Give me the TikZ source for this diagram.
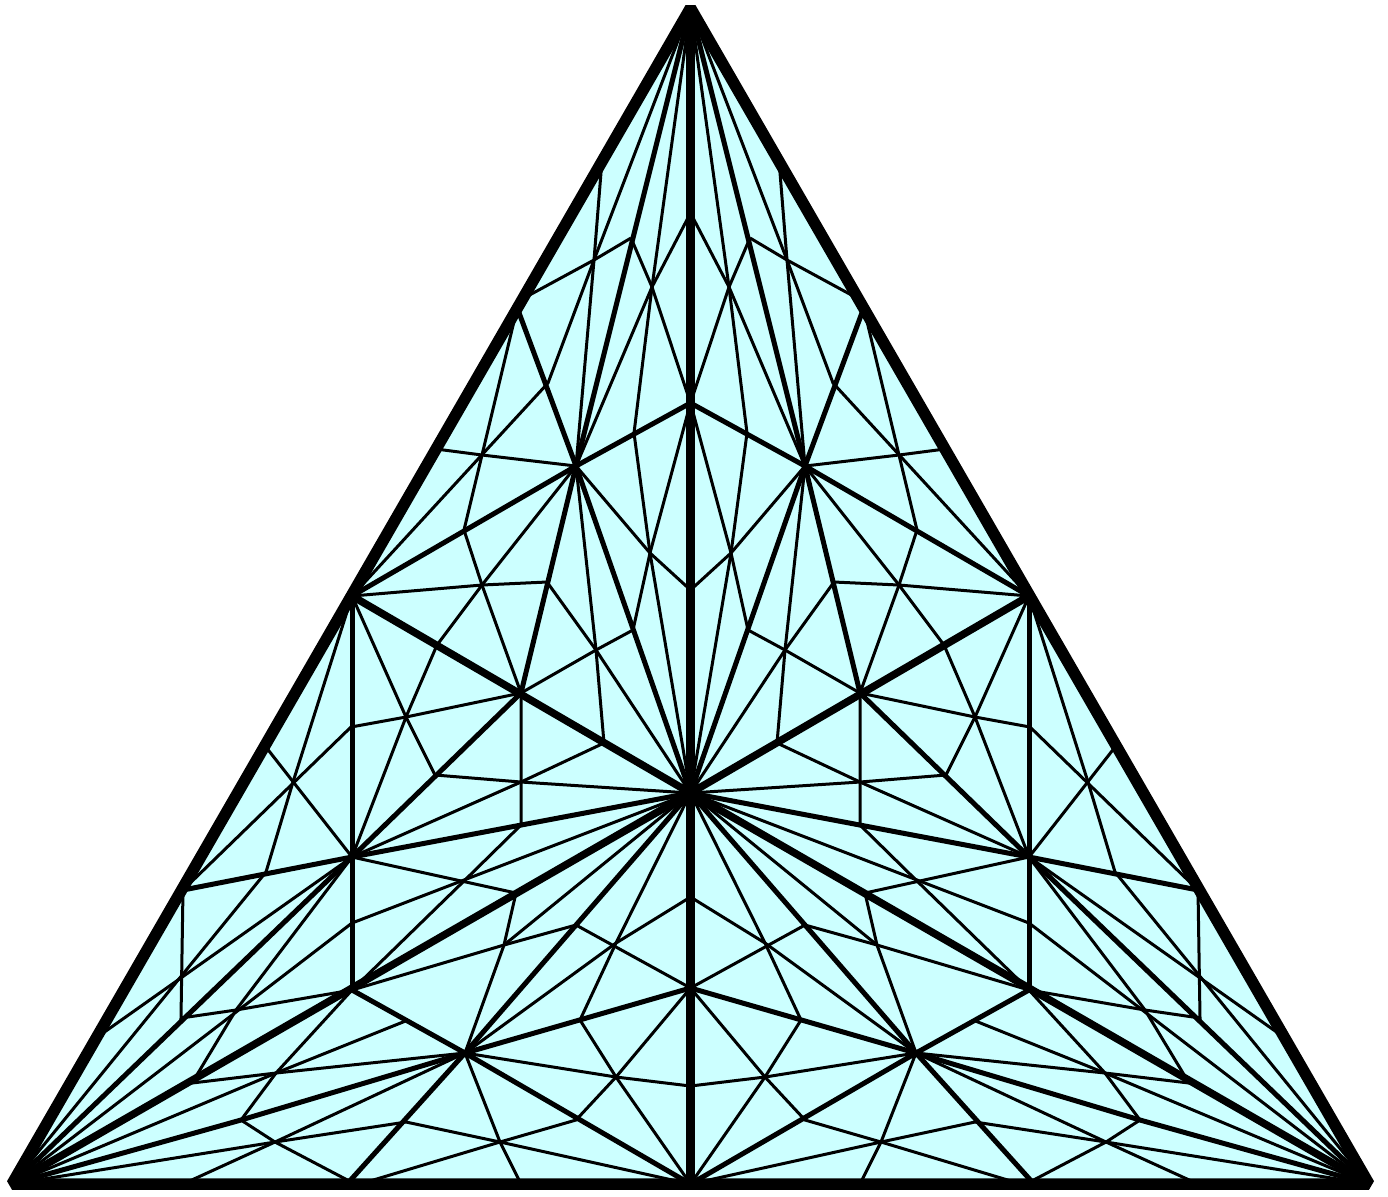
\documentclass[tikz,border=0pt]{standalone}
\usepackage{xcolor}
\definecolor{paleCyan}{RGB}{204,255,255}
\tikzset{
  rim/.style      = {draw=black, line width=11.5\unitlength, line join=bevel},
  meshfine/.style = {black, line width=3\unitlength},
  meshmid/.style  = {black, line width=5\unitlength},
  meshbold/.style = {black, line width=7.5\unitlength},
  axisline/.style = {black, line width=9.5\unitlength}
}
\setlength{\unitlength}{0.01cm}
\begin{document}
\begin{tikzpicture}[x=0.01cm, y=-0.01cm]
  \useasboundingbox (0,0) rectangle (1388,1196);

  \coordinate (top) at (690.5,8);
  \coordinate (mid) at (690.5,793);
  \coordinate (foot) at (690.5,1184);
  \coordinate (cornerL) at (12,1184);
  \coordinate (cornerR) at (1369,1184);

  \fill[paleCyan] (top) -- (cornerR) -- (cornerL) -- cycle;

  \foreach \flip in {1,-1} {
  \begin{scope}[shift={(690.5,0)}, xscale=\flip, shift={(-690.5,0)}]
    % hubs
    \coordinate (tip) at (12,1184);
    \coordinate (side) at (352,596);
    \coordinate (hubA) at (576,466);
    \coordinate (hubB) at (521,693);
    \coordinate (hubC) at (352,857);
    \coordinate (hubD) at (352,990);
    \coordinate (hubE) at (465,1053);
    \coordinate (hubF) at (690.5,988);
    \coordinate (hubG) at (690.5,403);
    % upper sector
    \coordinate (a1) at (602,160);   \coordinate (a2) at (594,260);
    \coordinate (a3) at (631,238);   \coordinate (a4) at (652,287);
    \coordinate (a5) at (524,298);   \coordinate (a6) at (518,310);
    \coordinate (a7) at (548,383);   \coordinate (a8) at (516,313);
    \coordinate (a9) at (482,455);   \coordinate (a10) at (436,449);
    \coordinate (a11) at (464,530);  \coordinate (a12) at (482,585);
    \coordinate (a13) at (547,582);  \coordinate (a14) at (437,645);
    \coordinate (a15) at (634,433);  \coordinate (a16) at (650,553);
    \coordinate (a17) at (633,630);  \coordinate (a18) at (596,650);
    \coordinate (a19) at (604,743);  \coordinate (a20) at (690.5,590);
    \coordinate (a21) at (690.5,213);
    % side sector
    \coordinate (b1) at (406,717);   \coordinate (b2) at (351,727);
    \coordinate (b3) at (435,775);   \coordinate (b4) at (262,742);
    \coordinate (b5) at (293,782);   \coordinate (b6) at (521,782);
    \coordinate (b7) at (521,825);   \coordinate (b8) at (465,880);
    \coordinate (b9) at (516,893);   \coordinate (b10) at (352,923);
    \coordinate (b11) at (266,872);
    \coordinate (c1) at (183,890);   \coordinate (c2) at (181,975);
    \coordinate (c3) at (181,1018);  \coordinate (c4) at (236,1010);
    \coordinate (c5) at (103,1033);  \coordinate (c6) at (192,1083);
    % lower sector
    \coordinate (d1) at (504,945);   \coordinate (d2) at (576,925);
    \coordinate (d3) at (616,943);   \coordinate (d4) at (580,1020);
    \coordinate (d5) at (408,1020);
    \coordinate (e1) at (276,1073);  \coordinate (e2) at (241,1120);
    \coordinate (e3) at (275,1142);  \coordinate (e4) at (406,1122);
    \coordinate (e5) at (347,1184);  \coordinate (e6) at (183,1184);
    \coordinate (e7) at (500,1142);  \coordinate (e8) at (521,1184);
    \coordinate (e9) at (576,1120);  \coordinate (e10) at (616,1077);
    \coordinate (e11) at (690.5,1086); \coordinate (e12) at (360,1184);
    \coordinate (e13) at (355,1184); \coordinate (e14) at (690.5,897);

    % upper sector
    \draw[meshfine] (top) -- (a2);
    \draw[meshfine] (top) -- (a4);
    \draw[meshfine] (a1) -- (a2) -- (a7) -- (side);
    \draw[meshfine] (a5) -- (a2) -- (a3);
    \draw[meshfine] (a3) -- (a4) -- (hubG);
    \draw[meshfine] (a21) -- (a4) -- (hubA);
    \draw[meshfine] (a2) -- (hubA);
    \draw[meshfine] (a4) -- (a15) -- (a16);
    \draw[meshfine] (a8) -- (a9) -- (a11) -- (a12) -- (hubB);
    \draw[meshfine] (a10) -- (a9) -- (hubA);
    \draw[meshfine] (hubA) -- (a12) -- (a14);
    \draw[meshfine] (side) -- (a12) -- (a13) -- (a18) -- (mid);
    \draw[meshfine] (hubB) -- (a18) -- (a17) -- (a16) -- (hubG);
    \draw[meshfine] (hubA) -- (a18) -- (a19);
    \draw[meshfine] (hubA) -- (a16) -- (a20);
    \draw[meshfine] (a16) -- (mid);
    \draw[meshmid] (hubA) -- (hubG);
    \draw[meshmid] (hubA) -- (side);
    \draw[meshmid] (hubA) -- (a6);
    \draw[meshmid] (hubA) -- (hubB);
    \draw[meshmid] (hubA) -- (top);
    \draw[meshmid] (hubA) -- (mid);

    % side sector
    \draw[meshfine] (a14) -- (b1) -- (hubC);
    \draw[meshfine] (side) -- (b1) -- (b3);
    \draw[meshfine] (b2) -- (b1) -- (hubB);
    \draw[meshfine] (b2) -- (c1);
    \draw[meshfine] (side) -- (b5) -- (b11) -- (tip);
    \draw[meshfine] (b4) -- (hubC);
    \draw[meshfine] (hubB) -- (b7) -- (b8);
    \draw[meshfine] (b3) -- (b6) -- (mid);
    \draw[meshfine] (a19) -- (b6) -- (hubC);
    \draw[meshfine] (mid) -- (b10);
    \draw[meshfine] (b8) -- (hubD);
    \draw[meshfine] (hubC) -- (b9) -- (d1) -- (hubE);
    \draw[meshfine] (hubD) -- (d1) -- (d2) -- (hubF);
    \draw[meshfine] (d1) -- (mid);
    \draw[meshfine] (c1) -- (c3) -- (c4) -- (hubD);
    \draw[meshfine] (c5) -- (hubC);
    \draw[meshfine] (hubC) -- (c4) -- (c6);
    \draw[meshfine] (b10) -- (tip);
    \draw[meshmid] (hubC) -- (c1);
    \draw[meshmid] (hubC) -- (hubB);
    \draw[meshmid] (hubC) -- (mid);
    \draw[meshmid] (hubC) -- (tip);
    \draw[meshmid] (side) -- (hubD);

    % lower sector
    \draw[meshfine] (mid) -- (d3) -- (d4) -- (e10) -- (foot);
    \draw[meshfine] (e14) -- (d3) -- (hubE);
    \draw[meshfine] (hubF) -- (e10) -- (e9) -- (e7) -- (e12);
    \draw[meshfine] (hubE) -- (e10) -- (e11);
    \draw[meshfine] (hubE) -- (e7) -- (e8);
    \draw[meshfine] (e4) -- (e7) -- (foot);
    \draw[meshfine] (d5) -- (e1);
    \draw[meshfine] (hubE) -- (e1) -- (c6);
    \draw[meshfine] (hubD) -- (e1) -- (e2) -- (e3) -- (e13);
    \draw[meshfine] (hubE) -- (e3) -- (e6);
    \draw[meshfine] (e4) -- (e3) -- (tip);
    \draw[meshfine] (tip) -- (e1);
    \draw[meshmid] (hubD) -- (hubE);
    \draw[meshmid] (hubE) -- (hubF);
    \draw[meshmid] (hubE) -- (foot);
    \draw[meshmid] (hubE) -- (e5);
    \draw[meshmid] (hubE) -- (e2) -- (tip);
    \draw[meshmid] (hubE) -- (mid);

    % spokes
    \draw[meshbold] (mid) -- (side);
    \draw[meshbold] (mid) -- (tip);
  \end{scope}
  }

  \draw[axisline] (top) -- (foot);
  \draw[rim] (top) -- (cornerR) -- (cornerL) -- cycle;
\end{tikzpicture}
\end{document}
